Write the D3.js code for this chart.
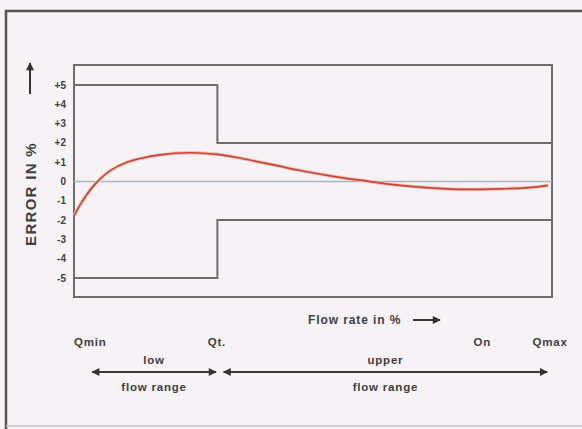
<!DOCTYPE html>
<html>
<head>
<meta charset="utf-8">
<script src="https://cdn.jsdelivr.net/npm/d3@7"></script>
<style>
  body { margin:0; background:#f6f2f6; }
  svg { display:block; font-family:"Liberation Sans", Arial, sans-serif; }
  text { fill:#404040; font-weight:bold; }
</style>
</head>
<body>
<svg id="chart" width="582" height="429"></svg>
<script>
// y ticks (error in %)
var yTicks = [5, 4, 3, 2, 1, 0, -1, -2, -3, -4, -5];
var yTickLabels = ["+5", "+4", "+3", "+2", "+1", "0", "-1", "-2", "-3", "-4", "-5"];

// error limits: flow % where step happens, and limit values
var limitFlow = [0, 30, 30, 100];
var upperLimit = [5, 5, 2, 2];
var lowerLimit = [-5, -5, -2, -2];

// error curve (flow %, error %)
var curveFlow  = [0, 1.3, 4.0, 7.5, 11.1, 18.0, 24.3, 29.9, 35.4, 42.5, 47.3, 54.2, 61.3, 66.7, 75.1, 82.2, 89.1, 96.0, 99.2];
var curveError = [-1.8, -1.2, -0.25, 0.55, 1.0, 1.38, 1.49, 1.41, 1.18, 0.82, 0.57, 0.27, 0.02, -0.16, -0.34, -0.41, -0.38, -0.3, -0.2];

// flow markers under the chart
var markerNames = ["Qmin", "Qt.", "On", "Qmax"];
var markerFlow  = [3.4, 29.9, 85.4, 99.6];

// flow ranges
var rangeNames = ["low", "upper"];
var rangeStart = [3.8, 31.3];
var rangeEnd   = [29.7, 99.0];

var svg = d3.select("#chart");

// outer frame
svg.append("path")
  .attr("d", "M6,429 L6,11 L582,11")
  .attr("fill", "none").attr("stroke", "#555").attr("stroke-width", 2.5);
svg.append("line").attr("x1", 6).attr("x2", 582).attr("y1", 426).attr("y2", 426)
  .attr("stroke", "#c4c0c4").attr("stroke-width", 1.5);

var x = d3.scaleLinear().domain([0, 100]).range([74, 552]);
var y = d3.scaleLinear().domain([-5, 5]).range([278, 85]);

var defs = svg.append("defs");
defs.append("marker").attr("id", "ah").attr("viewBox", "0 0 10 10")
  .attr("refX", 9).attr("refY", 5).attr("markerWidth", 9).attr("markerHeight", 8)
  .attr("markerUnits", "userSpaceOnUse").attr("orient", "auto-start-reverse")
  .append("path").attr("d", "M0,0 L10,5 L0,10 Z").attr("fill", "#333");

// plot box
svg.append("rect").attr("x", 74).attr("y", 65).attr("width", 478).attr("height", 232)
  .attr("fill", "none").attr("stroke", "#6e6e6e").attr("stroke-width", 2);

// zero line
svg.append("line").attr("x1", x(0)).attr("x2", x(100)).attr("y1", y(0)).attr("y2", y(0))
  .attr("stroke", "#a9b4c2").attr("stroke-width", 1.5);

// limit lines
var lim = d3.line().x(function(d) { return x(d[0]); }).y(function(d) { return y(d[1]); });
[upperLimit, lowerLimit].forEach(function(vals) {
  svg.append("path")
    .attr("d", lim(limitFlow.map(function(f, i) { return [f, vals[i]]; })))
    .attr("fill", "none").attr("stroke", "#6b6b6b").attr("stroke-width", 2);
});

// curve
var curveLine = d3.line().curve(d3.curveCatmullRom)
  .x(function(d) { return x(d[0]); }).y(function(d) { return y(d[1]); });
var pts = curveFlow.map(function(f, i) { return [f, curveError[i]]; });
svg.append("path").attr("d", curveLine(pts))
  .attr("fill", "none").attr("stroke", "#f3c0b0").attr("stroke-width", 3.5);
svg.append("path").attr("d", curveLine(pts))
  .attr("fill", "none").attr("stroke", "#c4463c").attr("stroke-width", 1.7);

// y axis tick labels
svg.selectAll("text.ytick").data(yTicks).enter().append("text")
  .attr("class", "ytick")
  .attr("x", 66).attr("y", function(d) { return y(d); })
  .attr("dy", "0.35em").attr("text-anchor", "end")
  .style("font-size", "10px")
  .text(function(d, i) { return yTickLabels[i]; });

// y axis title + arrow
svg.append("text").attr("transform", "translate(36,194) rotate(-90)")
  .attr("text-anchor", "middle").style("font-size", "15px").style("letter-spacing", "1.3px")
  .text("ERROR IN %");
svg.append("line").attr("x1", 30).attr("x2", 30).attr("y1", 94).attr("y2", 63)
  .attr("stroke", "#333").attr("stroke-width", 2).attr("marker-end", "url(#ah)");

// x axis title + arrow
svg.append("text").attr("x", 308).attr("y", 324)
  .style("font-size", "12px").style("letter-spacing", "0.9px")
  .text("Flow rate in %");
svg.append("line").attr("x1", 413).attr("x2", 440).attr("y1", 320).attr("y2", 320)
  .attr("stroke", "#333").attr("stroke-width", 2).attr("marker-end", "url(#ah)");

// flow markers
svg.selectAll("text.marker").data(markerNames).enter().append("text")
  .attr("class", "marker")
  .attr("x", function(d, i) { return x(markerFlow[i]); }).attr("y", 346)
  .attr("text-anchor", "middle").style("font-size", "11.5px").style("letter-spacing", "0.8px")
  .text(function(d) { return d; });

// flow ranges with double arrows
rangeNames.forEach(function(name, i) {
  var x0 = x(rangeStart[i]), x1 = x(rangeEnd[i]), xm = (x0 + x1) / 2;
  svg.append("line").attr("x1", x0).attr("x2", x1).attr("y1", 372).attr("y2", 372)
    .attr("stroke", "#3a3a3a").attr("stroke-width", 1.8)
    .attr("marker-start", "url(#ah)").attr("marker-end", "url(#ah)");
  svg.append("text").attr("x", xm).attr("y", 364)
    .attr("text-anchor", "middle").style("font-size", "11.5px").style("letter-spacing", "0.8px")
    .text(name);
  svg.append("text").attr("x", xm).attr("y", 391)
    .attr("text-anchor", "middle").style("font-size", "11.5px").style("letter-spacing", "0.8px")
    .text("flow range");
});
</script>
</body>
</html>
